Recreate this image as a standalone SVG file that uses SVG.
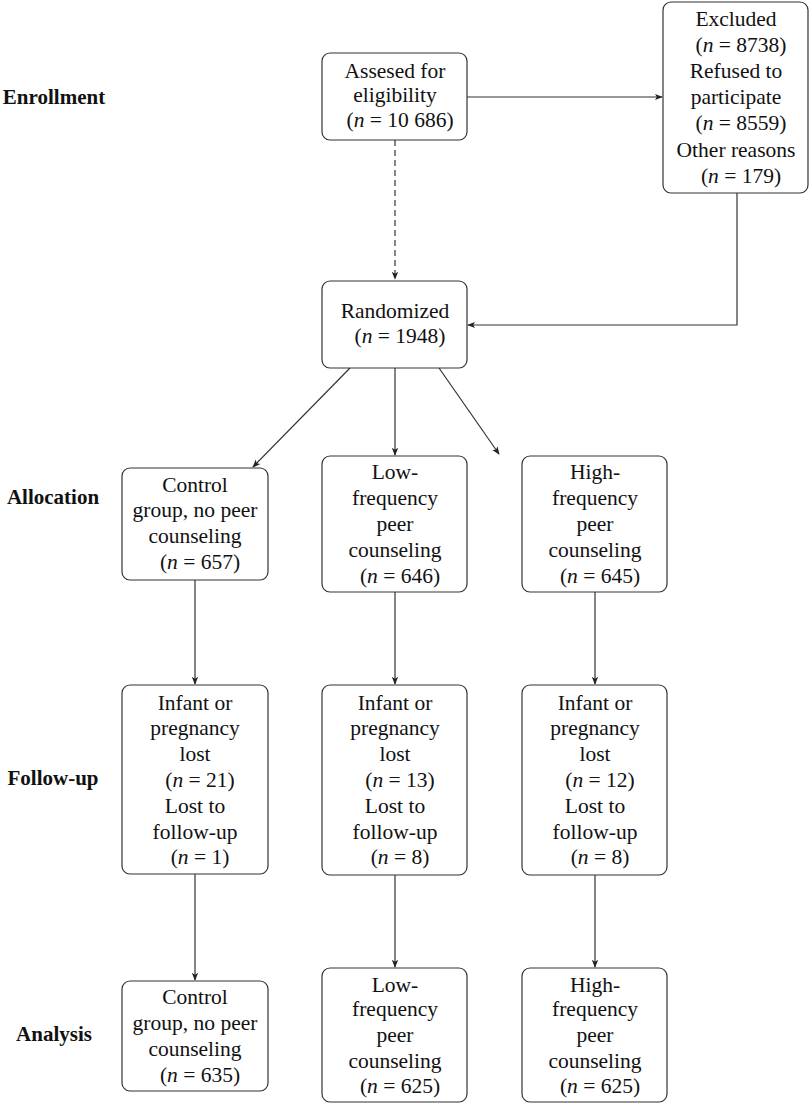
<svg xmlns="http://www.w3.org/2000/svg" width="810" height="1106" viewBox="0 0 810 1106">
<defs>
<marker id="ah" viewBox="0 0 10 10" refX="9" refY="5" markerWidth="8" markerHeight="8" markerUnits="userSpaceOnUse" orient="auto">
<path d="M0,1 L10,5 L0,9 L2.5,5 Z" fill="#222"/>
</marker>
<style>
.box{fill:#fff;stroke:#333;stroke-width:1.2}
.t{font-size:21.5px;fill:#111;text-anchor:middle}
.lab{font-size:21px;font-weight:bold;fill:#111;text-anchor:middle}
.c{fill:none;stroke:#333;stroke-width:1.2}
.d{stroke-dasharray:6 4}
.i{font-style:italic}
</style>
</defs>
<rect width="810" height="1106" fill="#fff"/>
<g font-family="'Liberation Serif', 'DejaVu Serif', serif">
<g id="stage-labels">
<text class="lab" x="54" y="104">Enrollment</text>
<text class="lab" x="53" y="504">Allocation</text>
<text class="lab" x="53" y="785">Follow-up</text>
<text class="lab" x="54" y="1041">Analysis</text>
</g>

<g id="connectors">
<path class="c" d="M467,97 L662,97" marker-end="url(#ah)"/>
<path class="c d" d="M395,140 L395,279" marker-end="url(#ah)"/>
<path class="c" d="M737,193 L737,325 L468,325" marker-end="url(#ah)"/>
<path class="c" d="M350,368 L253,467" marker-end="url(#ah)"/>
<path class="c" d="M395,368 L395,455" marker-end="url(#ah)"/>
<path class="c" d="M439,368 L499,454" marker-end="url(#ah)"/>
<path class="c" d="M195,580 L195,684" marker-end="url(#ah)"/>
<path class="c" d="M395,592 L395,684" marker-end="url(#ah)"/>
<path class="c" d="M595,592 L595,684" marker-end="url(#ah)"/>
<path class="c" d="M195,874 L195,980" marker-end="url(#ah)"/>
<path class="c" d="M395,875 L395,967" marker-end="url(#ah)"/>
<path class="c" d="M595,875 L595,967" marker-end="url(#ah)"/>
</g>

<g id="assessed">
<rect class="box" x="322" y="53" width="145" height="87" rx="8"/>
<text class="t" x="395" y="78">Assesed for</text>
<text class="t" x="395" y="102">eligibility</text>
<text class="t" x="400" y="127">(<tspan class="i">n</tspan> = 10 686)</text>
</g>

<g id="excluded">
<rect class="box" x="663" y="2" width="145" height="191" rx="8"/>
<text class="t" x="736" y="26">Excluded</text>
<text class="t" x="741" y="52">(<tspan class="i">n</tspan> = 8738)</text>
<text class="t" x="736" y="78">Refused to</text>
<text class="t" x="736" y="104">participate</text>
<text class="t" x="741" y="130">(<tspan class="i">n</tspan> = 8559)</text>
<text class="t" x="736" y="157">Other reasons</text>
<text class="t" x="741" y="183">(<tspan class="i">n</tspan> = 179)</text>
</g>

<g id="randomized">
<rect class="box" x="322" y="281" width="145" height="87" rx="8"/>
<text class="t" x="395" y="318">Randomized</text>
<text class="t" x="400" y="343">(<tspan class="i">n</tspan> = 1948)</text>
</g>

<g id="alloc-control">
<rect class="box" x="122" y="468" width="146" height="112" rx="8"/>
<text class="t" x="195" y="492">Control</text>
<text class="t" x="195" y="517">group, no peer</text>
<text class="t" x="195" y="543">counseling</text>
<text class="t" x="200" y="569">(<tspan class="i">n</tspan> = 657)</text>
</g>

<g id="alloc-low">
<rect class="box" x="322" y="456" width="145" height="136" rx="8"/>
<text class="t" x="395" y="479">Low-</text>
<text class="t" x="395" y="505">frequency</text>
<text class="t" x="395" y="531">peer</text>
<text class="t" x="395" y="557">counseling</text>
<text class="t" x="400" y="583">(<tspan class="i">n</tspan> = 646)</text>
</g>

<g id="alloc-high">
<rect class="box" x="522" y="456" width="145" height="136" rx="8"/>
<text class="t" x="595" y="479">High-</text>
<text class="t" x="595" y="505">frequency</text>
<text class="t" x="595" y="531">peer</text>
<text class="t" x="595" y="557">counseling</text>
<text class="t" x="600" y="583">(<tspan class="i">n</tspan> = 645)</text>
</g>

<g id="follow-control">
<rect class="box" x="122" y="685" width="146" height="189" rx="8"/>
<text class="t" x="195" y="710">Infant or</text>
<text class="t" x="195" y="735">pregnancy</text>
<text class="t" x="195" y="761">lost</text>
<text class="t" x="200" y="787">(<tspan class="i">n</tspan> = 21)</text>
<text class="t" x="195" y="813">Lost to</text>
<text class="t" x="195" y="839">follow-up</text>
<text class="t" x="200" y="864">(<tspan class="i">n</tspan> = 1)</text>
</g>

<g id="follow-low">
<rect class="box" x="322" y="685" width="145" height="190" rx="8"/>
<text class="t" x="395" y="710">Infant or</text>
<text class="t" x="395" y="735">pregnancy</text>
<text class="t" x="395" y="761">lost</text>
<text class="t" x="400" y="787">(<tspan class="i">n</tspan> = 13)</text>
<text class="t" x="395" y="813">Lost to</text>
<text class="t" x="395" y="839">follow-up</text>
<text class="t" x="400" y="864">(<tspan class="i">n</tspan> = 8)</text>
</g>

<g id="follow-high">
<rect class="box" x="522" y="685" width="145" height="190" rx="8"/>
<text class="t" x="595" y="710">Infant or</text>
<text class="t" x="595" y="735">pregnancy</text>
<text class="t" x="595" y="761">lost</text>
<text class="t" x="600" y="787">(<tspan class="i">n</tspan> = 12)</text>
<text class="t" x="595" y="813">Lost to</text>
<text class="t" x="595" y="839">follow-up</text>
<text class="t" x="600" y="864">(<tspan class="i">n</tspan> = 8)</text>
</g>

<g id="analysis-control">
<rect class="box" x="122" y="981" width="146" height="110" rx="8"/>
<text class="t" x="195" y="1004">Control</text>
<text class="t" x="195" y="1030">group, no peer</text>
<text class="t" x="195" y="1056">counseling</text>
<text class="t" x="200" y="1082">(<tspan class="i">n</tspan> = 635)</text>
</g>

<g id="analysis-low">
<rect class="box" x="322" y="968" width="145" height="134" rx="8"/>
<text class="t" x="395" y="992">Low-</text>
<text class="t" x="395" y="1016">frequency</text>
<text class="t" x="395" y="1042">peer</text>
<text class="t" x="395" y="1068">counseling</text>
<text class="t" x="400" y="1093">(<tspan class="i">n</tspan> = 625)</text>
</g>

<g id="analysis-high">
<rect class="box" x="522" y="968" width="145" height="134" rx="8"/>
<text class="t" x="595" y="992">High-</text>
<text class="t" x="595" y="1016">frequency</text>
<text class="t" x="595" y="1042">peer</text>
<text class="t" x="595" y="1068">counseling</text>
<text class="t" x="600" y="1093">(<tspan class="i">n</tspan> = 625)</text>
</g>
</g>
</svg>
